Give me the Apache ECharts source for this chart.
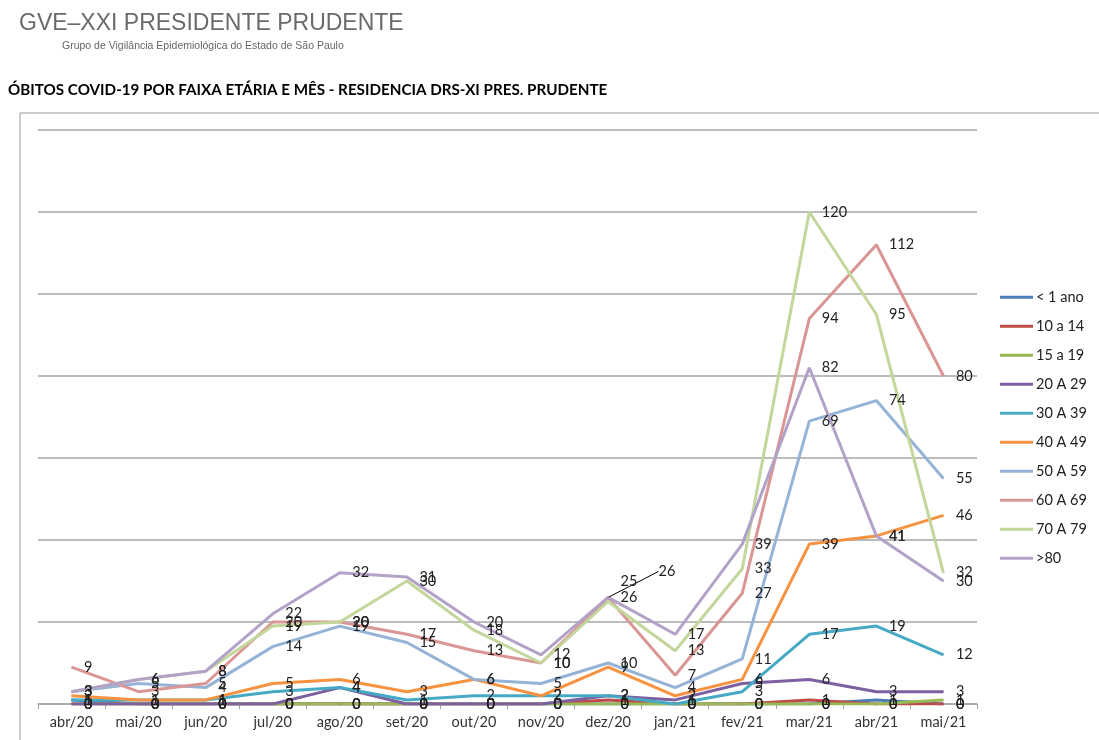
<!DOCTYPE html>
<html>
<head>
<meta charset="utf-8">
<script src="https://cdn.jsdelivr.net/npm/echarts@6/dist/echarts.min.js"></script>
<style>
html,body{margin:0;padding:0;background:#fff;}
#chart{width:1099px;height:740px;}
</style>
</head>
<body>
<div id="chart"></div>
<script>
const months = ['abr/20','mai/20','jun/20','jul/20','ago/20','set/20','out/20','nov/20','dez/20','jan/21','fev/21','mar/21','abr/21','mai/21'];
const lt1   = [1,0,0,0,0,0,0,0,0,0,0,0,1,0];
const a10_14 = [0,0,0,0,0,0,0,0,1,0,0,1,0,0];
const a15_19 = [0,0,0,0,0,0,0,0,0,0,0,0,0,1];
const a20_29 = [0,0,0,0,4,0,0,0,2,1,5,6,3,3];
const a30_39 = [1,1,1,3,4,1,2,2,2,0,3,17,19,12];
const a40_49 = [2,1,1,5,6,3,6,2,9,2,6,39,41,46];
const a50_59 = [3,5,4,14,19,15,6,5,10,4,11,69,74,55];
const a60_69 = [9,3,5,20,20,17,13,10,26,7,27,94,112,80];
const a70_79 = [3,6,8,19,20,30,18,10,25,13,33,120,95,32];
const a80    = [3,6,8,22,32,31,20,12,26,17,39,82,41,30];

const seriesDefs = [
  ['< 1 ano', lt1, '#4A7EBB'],
  ['10 a 14', a10_14, '#BE4B48'],
  ['15 a 19', a15_19, '#98B954'],
  ['20 A 29', a20_29, '#7D60A0'],
  ['30 A 39', a30_39, '#46AAC5'],
  ['40 A 49', a40_49, '#F69240'],
  ['50 A 59', a50_59, '#95B3D7'],
  ['60 A 69', a60_69, '#D99694'],
  ['70 A 79', a70_79, '#C3D69B'],
  ['>80', a80, '#B3A2C7']
];

const chart = echarts.init(document.getElementById('chart'));
const FONT = 'Lato, "Liberation Sans", sans-serif';

const series = seriesDefs.map(([name, vals, color]) => {
  const s = {
    name: name,
    type: 'line',
    data: vals.slice(),
    symbol: 'circle',
    symbolSize: 1,
    itemStyle: {color: color},
    lineStyle: {color: color, width: 3},
    label: {show: true, position: 'right', distance: 12, color: '#222', fontSize: 14.5, fontFamily: FONT},
    emphasis: {disabled: true},
    animation: false
  };
  if (name === '60 A 69') {
    s.data = vals.map((v, i) => i === 8 ? {value: v, labelLine: {show: true, lineStyle: {color: '#000', width: 1}}} : v);
    s.labelLine = {show: false};
    s.labelLayout = function (p) {
      if (p.dataIndex === 8) return {dx: 38, dy: -26};
      return {};
    };
  }
  if (name === '70 A 79') {
    s.labelLayout = function (p) {
      if (p.dataIndex === 8) return {dy: -20};
      return {};
    };
  }
  return s;
});

chart.setOption({
  backgroundColor: '#fff',
  animation: false,
  textStyle: {fontFamily: FONT},
  title: [
    {text: 'GVE–XXI PRESIDENTE PRUDENTE', left: 14, top: 7, textStyle: {fontSize: 23, fontWeight: 'normal', color: '#6a6a6a', fontFamily: '"Liberation Sans", sans-serif'}},
    {text: 'Grupo de Vigilância Epidemiológica do Estado de São Paulo', left: 57, top: 36, textStyle: {fontSize: 10.5, fontWeight: 'normal', color: '#666', fontFamily: '"Liberation Sans", sans-serif'}},
    {text: 'ÓBITOS COVID-19 POR FAIXA ETÁRIA E MÊS - RESIDENCIA DRS-XI PRES. PRUDENTE', left: 3, top: 78, textStyle: {fontSize: 15.2, fontWeight: 'bold', color: '#000', fontFamily: FONT}}
  ],
  graphic: [
    {type: 'polyline', shape: {points: [[20, 740], [20, 113], [1099, 113]]}, style: {stroke: '#999', lineWidth: 1, fill: null}, silent: true}
  ],
  legend: {
    orient: 'vertical',
    left: 995,
    top: 284,
    icon: 'rect',
    itemWidth: 33,
    itemHeight: 3,
    itemGap: 12.5,
    textStyle: {fontSize: 14.5, color: '#222', lineHeight: 16.5, fontFamily: FONT, padding: [0, 0, 0, -2]},
    data: seriesDefs.map(d => d[0])
  },
  grid: {left: 38, right: 122, top: 130, bottom: 36},
  xAxis: {
    type: 'category',
    data: months,
    boundaryGap: true,
    axisLine: {lineStyle: {color: '#a6a6a6', width: 1.5}},
    axisTick: {show: true, lineStyle: {color: '#a6a6a6'}, length: 5},
    axisLabel: {color: '#333', fontSize: 14.5, margin: 11, fontFamily: FONT}
  },
  yAxis: {
    type: 'value',
    min: 0,
    max: 140,
    interval: 20,
    axisLabel: {show: false},
    axisLine: {show: false},
    axisTick: {show: false},
    splitLine: {lineStyle: {color: '#a6a6a6', width: 1.5}}
  },
  series: series
});
</script>
</body>
</html>
